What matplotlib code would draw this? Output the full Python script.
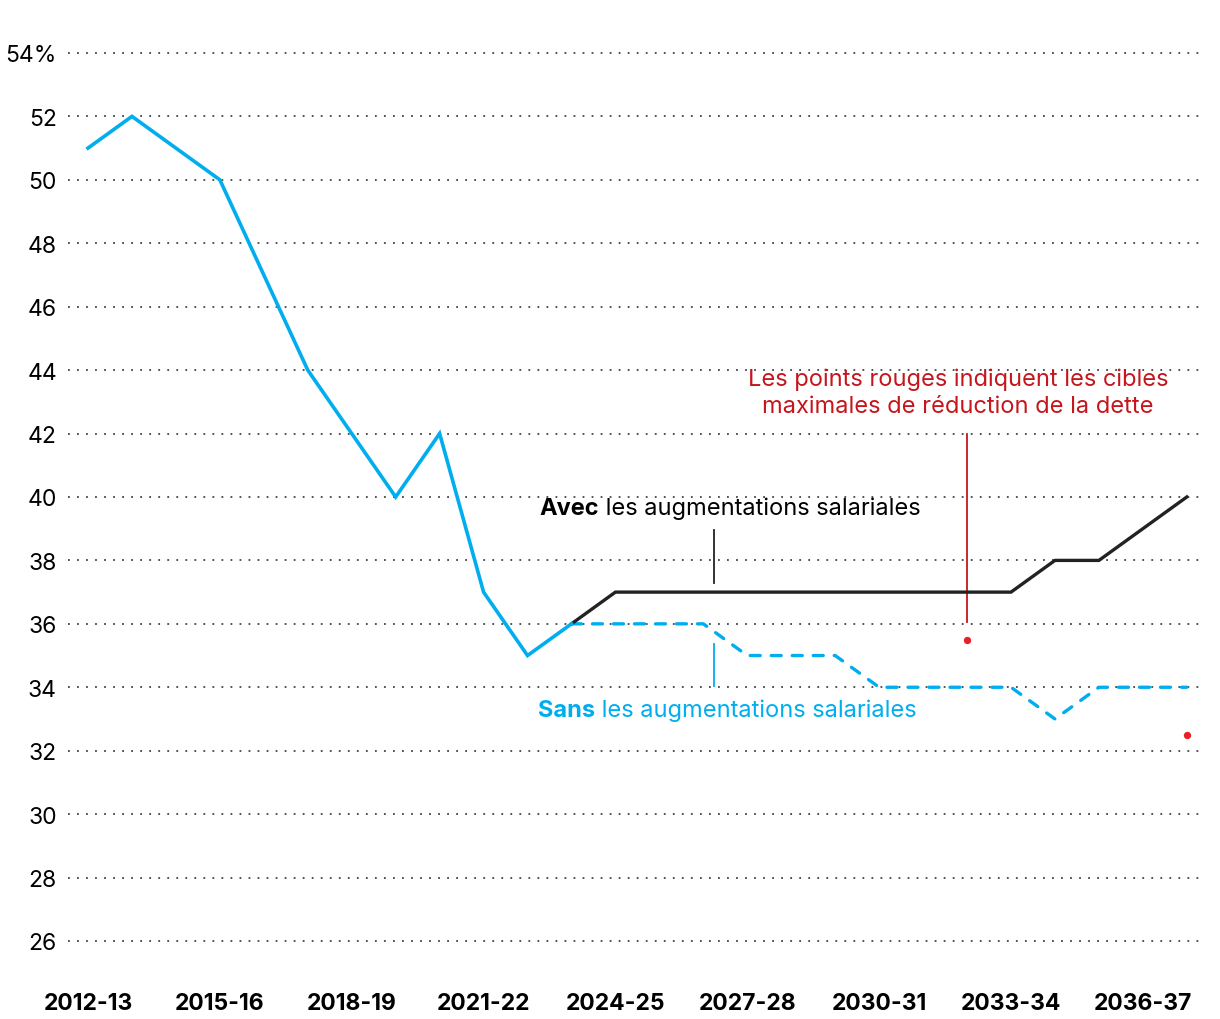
import matplotlib
matplotlib.use("Agg")
import matplotlib.pyplot as plt
import numpy as np

plt.rcParams['font.family'] = ['Inter', 'DejaVu Sans']

# years shown on the x axis
years = [f"{y}-{str(y + 1)[2:]}" for y in range(2012, 2038)]
tick_labels = years[::3]

# historical share (solid blue), 2012-13 .. 2023-24
hist_vals = [51, 52, 51, 50, 47, 44, 42, 40, 42, 37, 35, 36]
# projection with wage increases (black), 2023-24 .. 2037-38
avec_vals = [36, 37, 37, 37, 37, 37, 37, 37, 37, 37, 37, 38, 38, 39, 40]
# projection without wage increases (dashed blue), 2023-24 .. 2037-38
sans_vals = [36, 36, 36, 36, 35, 35, 35, 34, 34, 34, 34, 33, 34, 34, 34]
# maximum debt reduction targets (red dots)
target_years = ["2032-33", "2037-38"]
target_vals = [35.5, 32.5]

yticks = list(range(26, 56, 2))
ytick_labels = [str(v) for v in yticks[:-1]] + ["54%"]

BLUE = "#00AEEF"
BLACK = "#222222"
RED = "#C4161C"
DOT_RED = "#E8202A"

fig = plt.figure(figsize=(12.2, 10.2), dpi=100)
ax = fig.add_axes([68 / 1220, (1020 - 973.7) / 1020, (1200 - 68) / 1220, (973.7 - 38.1) / 1020])

xi = {y: i for i, y in enumerate(years)}
x_hist = np.arange(len(hist_vals))
x_proj = np.arange(len(hist_vals) - 1, len(years))

for v in yticks:
    ax.axhline(v, color="#444444", lw=1.3, ls=(0, (1, 4)), zorder=0)

ax.plot(x_proj, sans_vals, color=BLUE, lw=2.4, ls=(0, (3.0, 3.3)),
        dash_capstyle="round", zorder=2)
ax.plot(x_proj, avec_vals, color=BLACK, lw=2.4, solid_joinstyle="miter", zorder=3)
ax.plot(x_hist, hist_vals, color=BLUE, lw=2.6, solid_joinstyle="miter", zorder=4)

ax.scatter([xi[y] for y in target_years], target_vals, s=28, color=DOT_RED, zorder=5, linewidths=0)

# annotation leader lines
ax.plot([14.24, 14.24], [37.3, 38.95], color=BLACK, lw=1.3)
ax.plot([14.24, 14.24], [34.05, 35.35], color=BLUE, lw=1.3)
ax.plot([20.0, 20.0], [36.05, 42.0], color=RED, lw=1.3)

FS = 17
t1 = ax.text(10.26, 39.45, "Avec", fontsize=FS, fontweight="bold", color="black", va="baseline")
ax.annotate(" les augmentations salariales", xy=(1, 0), xycoords=t1, fontsize=FS,
            color="black", va="bottom", ha="left")
t2 = ax.text(10.24, 33.1, "Sans", fontsize=FS, fontweight="bold", color=BLUE, va="baseline")
ax.annotate(" les augmentations salariales", xy=(1, 0), xycoords=t2, fontsize=FS,
            color=BLUE, va="bottom", ha="left")
ax.text(19.79, 43.3, "Les points rouges indiquent les cibles\nmaximales de réduction de la dette",
        fontsize=FS, color=RED, ha="center", va="center", multialignment="center",
        linespacing=1.3)

ax.set_xlim(-0.455, 25.3)
ax.set_ylim(25, 54.5)
ax.set_yticks(yticks)
ax.set_yticklabels(ytick_labels, fontsize=16.5)
ax.set_xticks([xi[y] for y in tick_labels])
ax.set_xticklabels(tick_labels, fontsize=16.5, fontweight="bold")
ax.tick_params(axis="both", length=0)
ax.tick_params(axis="y", pad=8)
ax.tick_params(axis="x", pad=14)
for s in ax.spines.values():
    s.set_visible(False)

fig.savefig("out.png", dpi=100)
